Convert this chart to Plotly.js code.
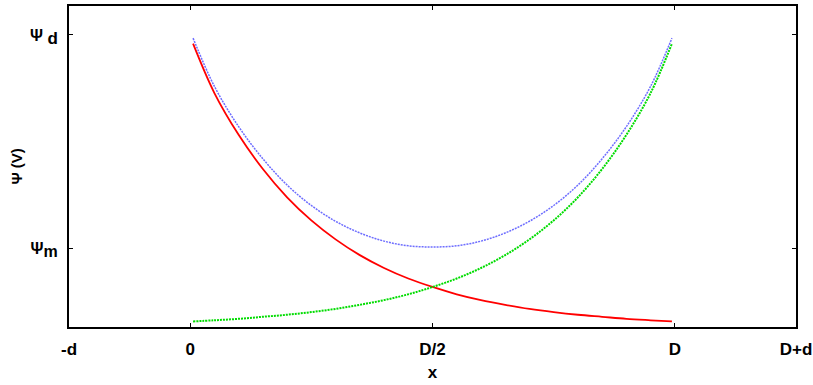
<!DOCTYPE html>
<html>
<head>
<meta charset="utf-8">
<script src="https://cdn.plot.ly/plotly-3.0.1.min.js"></script>
<style>html,body{margin:0;padding:0;background:#fff;}#chart{width:813px;height:385px;}</style>
</head>
<body>
<div id="chart"></div>
<script>
// Position across the gap, in units of D
var xPos = [0.006, 0.05, 0.1, 0.15, 0.2, 0.25, 0.3, 0.35, 0.4, 0.45, 0.5,
            0.55, 0.6, 0.65, 0.7, 0.75, 0.8, 0.85, 0.9, 0.95, 0.994];
// Potential from left surface (red), in units of Psi_d
var psiLeft = [0.970, 0.801, 0.658, 0.541, 0.444, 0.365, 0.300, 0.246, 0.202, 0.166, 0.137,
               0.112, 0.092, 0.076, 0.062, 0.051, 0.042, 0.035, 0.028, 0.023, 0.019];
// Potential from right surface (green)
var psiRight = [0.019, 0.023, 0.028, 0.035, 0.042, 0.051, 0.062, 0.076, 0.092, 0.112, 0.137,
                0.166, 0.202, 0.246, 0.300, 0.365, 0.444, 0.541, 0.658, 0.801, 0.970];
// Total potential (blue)
var psiTotal = [0.989, 0.824, 0.686, 0.576, 0.486, 0.416, 0.362, 0.322, 0.294, 0.278, 0.274,
                0.278, 0.294, 0.322, 0.362, 0.416, 0.486, 0.576, 0.686, 0.824, 0.989];

var xTickVals = [-0.25, 0, 0.5, 1, 1.25];
var xTickText = ['-d', '0', 'D/2', 'D', 'D+d'];
var yTickVals = [0.27, 1.0];
var yTickText = ['Ψ<sub><span style="font-size:16px">m</span></sub>',
                 'Ψ <sub><span style="font-size:17px">d</span></sub>'];
var yTitle = 'Ψ (V)';

var traces = [
  {x: xPos, y: psiLeft, mode: 'lines', line: {color: 'rgb(255,0,0)', width: 1.8, shape: 'spline'}},
  {x: xPos, y: psiRight, mode: 'lines', line: {color: 'rgb(0,220,0)', width: 2, dash: '2px,1px', shape: 'spline'}},
  {x: xPos, y: psiTotal, mode: 'lines', line: {color: 'rgb(110,110,255)', width: 1.5, dash: '2px,1px', shape: 'spline'}}
];

var fontFam = '"Liberation Sans", Arial, Helvetica, sans-serif';
var layout = {
  width: 813, height: 385,
  margin: {l: 69, r: 17, t: 6, b: 58},
  paper_bgcolor: '#fff', plot_bgcolor: '#fff',
  showlegend: false,
  font: {family: fontFam, color: '#000', size: 16},
  xaxis: {
    range: [-0.25, 1.25], tickvals: xTickVals,
    ticktext: xTickText.map(function(t){return '<b>' + t + '</b>';}),
    ticks: 'inside', ticklen: 4, tickwidth: 1, tickcolor: '#000',
    showline: true, linewidth: 2, linecolor: '#000', mirror: 'ticks',
    showgrid: false, zeroline: false,
    tickfont: {size: 17, family: fontFam}, ticklabelstandoff: 6,
    title: {text: '<b>x</b>', font: {size: 17, family: fontFam}, standoff: 8}
  },
  yaxis: {
    range: [0, 1.099], tickvals: yTickVals,
    ticktext: yTickText.map(function(t){return '<b>' + t + '</b>';}),
    ticks: 'inside', ticklen: 4, tickwidth: 1, tickcolor: '#000',
    showline: true, linewidth: 2, linecolor: '#000', mirror: 'ticks',
    showgrid: false, zeroline: false,
    tickfont: {size: 16, family: fontFam}, ticklabelstandoff: 6
  },
  annotations: [{
    text: '<b>' + yTitle + '</b>', xref: 'paper', yref: 'paper',
    x: -0.0729, y: 0.5, xanchor: 'center', yanchor: 'middle',
    textangle: -90, showarrow: false, font: {size: 15, family: fontFam, color: '#000'}
  }]
};

Plotly.newPlot('chart', traces, layout, {displayModeBar: false, staticPlot: true});
</script>
</body>
</html>
